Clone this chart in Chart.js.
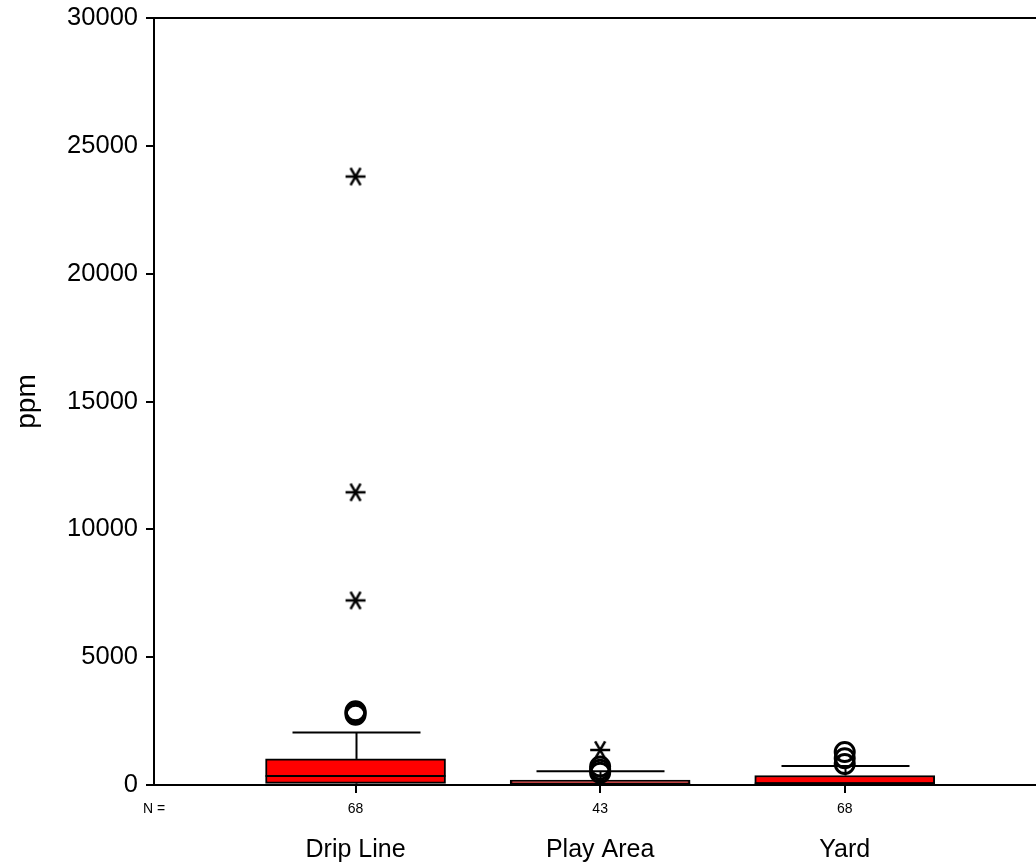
<!DOCTYPE html>
<html>
<head>
<meta charset="utf-8">
<script src="https://cdn.jsdelivr.net/npm/chart.js@4/dist/chart.umd.min.js"></script>
<style>
  html, body { margin: 0; padding: 0; background: #fff; }
  canvas { display: block; }
</style>
</head>
<body>
<canvas id="myChart" width="1036" height="867"></canvas>
<script>
// box plot values per group (ppm)
var categories = ['Drip Line', 'Play Area', 'Yard'];
var counts = [68, 43, 68];
var q1 = [65, 0, 40];
var median = [350, 40, 60];
var q3 = [1020, 190, 370];
var whiskerLow = [0, 0, 0];
var whiskerHigh = [2050, 540, 740];
var outliers = [[2750, 2820, 2880], [480, 600, 720], [820, 1050, 1290]];
var extremes = [[7220, 11450, 23800], [1370], []];
var yTicks = { min: 0, max: 30000, step: 5000 };

var xMin = 0.176, xMax = 3.782;
var boxWidth = 180, capWidth = 128;

Chart.defaults.font.family = "'Liberation Sans', Arial, sans-serif";
Chart.defaults.color = '#000';

// six-armed asterisk used for extreme values
function makeStar(r){
    var c = document.createElement('canvas');
    c.width = c.height = 2 * r + 4;
    var g = c.getContext('2d');
    g.strokeStyle = '#000';
    g.lineWidth = 2.5;
    g.translate(r + 2, r + 2);
    [0, 60, 120].forEach(function(a){
        var t = a * Math.PI / 180;
        g.beginPath();
        g.moveTo(-r * Math.cos(t), -r * Math.sin(t));
        g.lineTo(r * Math.cos(t), r * Math.sin(t));
        g.stroke();
    });
    return c;
}

var circlePts = [];
var starPts = [];
for (var i = 0; i < categories.length; i++) {
    outliers[i].forEach(function(v){ circlePts.push({x: i + 1, y: v}); });
    extremes[i].forEach(function(v){ starPts.push({x: i + 1, y: v}); });
}

function groupTicks(scale){
    var t = [{value: xMin}];
    for (var k = 0; k < categories.length; k++) t.push({value: k + 1});
    scale.ticks = t;
}

function line(ctx, x1, y1, x2, y2){
    ctx.beginPath();
    ctx.moveTo(x1, y1);
    ctx.lineTo(x2, y2);
    ctx.stroke();
}

var whiskers = {
    id: 'whiskers',
    beforeDatasetsDraw: function(chart){
        var ctx = chart.ctx, x = chart.scales.x, y = chart.scales.y;
        ctx.save();
        ctx.strokeStyle = '#000';
        ctx.lineWidth = 2;
        for (var k = 0; k < categories.length; k++) {
            var cx = Math.round(x.getPixelForValue(k + 1)) + 0.5;
            var top = y.getPixelForValue(whiskerHigh[k]);
            line(ctx, cx, y.getPixelForValue(q3[k]), cx, top);
            line(ctx, cx, y.getPixelForValue(q1[k]), cx, y.getPixelForValue(whiskerLow[k]));
            line(ctx, cx - capWidth / 2, top, cx + capWidth / 2, top);
        }
        ctx.restore();
    },
    afterDatasetDraw: function(chart, args){
        if (args.meta.type !== 'bar') return;
        var ctx = chart.ctx, x = chart.scales.x, y = chart.scales.y;
        ctx.save();
        ctx.strokeStyle = '#000';
        ctx.lineWidth = 2;
        for (var k = 0; k < categories.length; k++) {
            var cx = x.getPixelForValue(k + 1);
            var my = y.getPixelForValue(median[k]);
            line(ctx, cx - boxWidth / 2, my, cx + boxWidth / 2, my);
        }
        ctx.restore();
    }
};

var ctx = document.getElementById('myChart').getContext('2d');
var myChart = new Chart(ctx, {
    type: 'bar',
    data: {
        datasets: [{
            type: 'bar',
            order: 3,
            data: categories.map(function(c, k){ return {x: k + 1, y: [q1[k], q3[k]]}; }),
            backgroundColor: '#ff0000',
            borderColor: '#000',
            borderWidth: 2,
            borderSkipped: false,
            barThickness: boxWidth
        }, {
            type: 'scatter',
            order: 2,
            data: circlePts,
            pointStyle: 'circle',
            pointRadius: 9.5,
            borderWidth: 3,
            borderColor: '#000',
            backgroundColor: 'rgba(0,0,0,0)'
        }, {
            type: 'scatter',
            order: 1,
            data: starPts,
            pointStyle: makeStar(10),
            pointRadius: 10
        }]
    },
    options: {
        responsive: false,
        animation: false,
        devicePixelRatio: 1,
        layout: { autoPadding: false, padding: { top: 18, right: 0, left: 0, bottom: 0 } },
        plugins: { legend: { display: false }, tooltip: { enabled: false } },
        scales: {
            x: {
                type: 'linear', position: 'bottom', min: xMin, max: xMax, offset: false,
                afterBuildTicks: groupTicks,
                afterFit: function(s){ s.height = 32; },
                ticks: {
                    autoSkip: false, maxRotation: 0, padding: 8,
                    font: { size: 14 },
                    callback: function(v){ return v === xMin ? 'N =' : counts[v - 1]; }
                },
                grid: {
                    offset: false, drawOnChartArea: false, tickLength: 8, lineWidth: 2,
                    color: function(c){ return c.tick && c.tick.value === xMin ? 'rgba(0,0,0,0)' : '#000'; }
                },
                border: { color: '#000', width: 2 }
            },
            xName: {
                type: 'linear', position: 'bottom', min: xMin, max: xMax, offset: false,
                afterBuildTicks: groupTicks,
                afterFit: function(s){ s.height = 50; },
                ticks: {
                    autoSkip: false, maxRotation: 0, padding: 10,
                    font: { size: 25 },
                    callback: function(v){ return v === xMin ? '' : categories[v - 1]; }
                },
                grid: { display: false, offset: false },
                border: { display: false }
            },
            xTop: {
                type: 'linear', position: 'top', min: xMin, max: xMax, offset: false,
                afterFit: function(s){ s.height = 0; },
                ticks: { display: false },
                grid: { drawOnChartArea: false, drawTicks: false, offset: false },
                border: { color: '#000', width: 2 }
            },
            y: {
                min: yTicks.min, max: yTicks.max,
                afterFit: function(s){ s.width = 154; s.paddingTop = 0; s.paddingBottom = 0; },
                ticks: {
                    stepSize: yTicks.step, padding: 8, font: { size: 25.5 },
                    callback: function(v){ return String(v); }
                },
                grid: { drawOnChartArea: false, tickLength: 8, lineWidth: 2, color: '#000' },
                border: { color: '#000', width: 2 },
                title: { display: true, text: 'ppm', font: { size: 28 }, padding: { top: 10, bottom: 0 } }
            }
        }
    },
    plugins: [whiskers]
});
</script>
</body>
</html>
